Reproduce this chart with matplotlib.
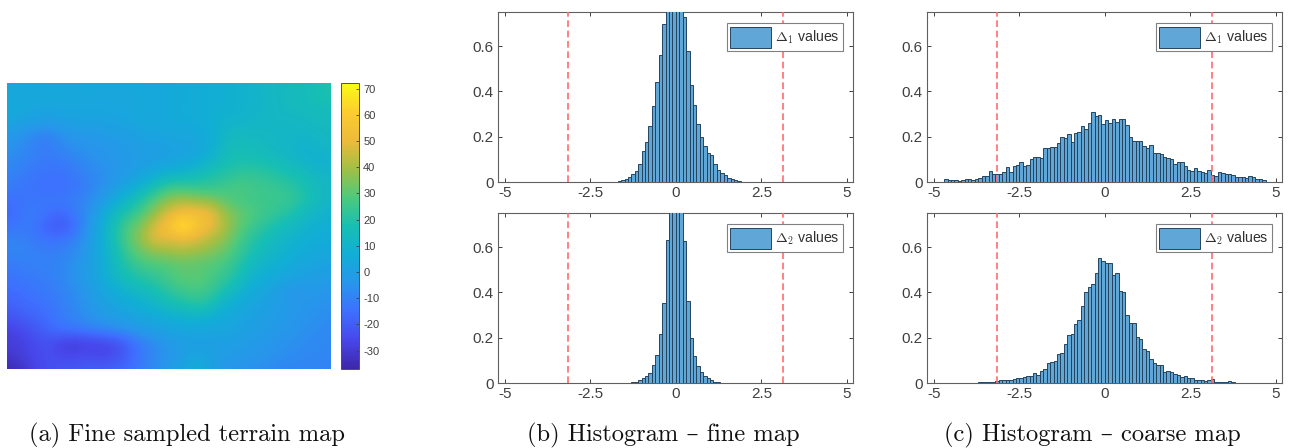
import numpy as np
import matplotlib
matplotlib.use("Agg")
import matplotlib.pyplot as plt
from matplotlib.colors import LinearSegmentedColormap

plt.rcParams['font.family'] = ['Liberation Sans', 'DejaVu Sans']
plt.rcParams['mathtext.fontset'] = 'cm'
plt.rcParams['axes.unicode_minus'] = False

W, H = 1290, 448

# terrain heights, top row first
terrain = [
    [3, 3, 3, 4, 4, 4, 4, 4, 4, 4, 4, 5, 5, 6, 6, 7, 8, 9, 10, 12, 13, 14, 15, 17, 19],
    [4, 4, 4, 4, 4, 4, 3, 3, 3, 3, 4, 4, 5, 5, 6, 7, 8, 9, 10, 11, 13, 14, 15, 17, 19],
    [5, 5, 3, 2, 3, 3, 3, 3, 3, 3, 4, 4, 5, 6, 6, 7, 8, 9, 10, 11, 13, 14, 14, 15, 15],
    [3, 1, 0, -1, 0, 1, 1, 1, 2, 3, 4, 4, 5, 5, 6, 7, 10, 10, 11, 12, 12, 12, 13, 14, 14],
    [-2, -5, -8, -11, -6, -3, -3, -2, -1, -1, 2, 2, 3, 3, 4, 6, 11, 14, 13, 13, 12, 12, 11, 12, 14],
    [-5, -7, -10, -12, -9, -6, -5, -4, -3, -2, 0, 0, 1, 1, 2, 6, 13, 16, 15, 14, 12, 11, 9, 10, 12],
    [-7, -9, -11, -12, -12, -10, -7, -5, -3, -2, -1, 0, 1, 3, 5, 11, 15, 18, 18, 17, 15, 13, 10, 8, 10],
    [-9, -11, -13, -14, -14, -12, -9, -7, -4, -2, 2, 6, 10, 11, 14, 18, 20, 22, 23, 22, 20, 17, 16, 12, 11],
    [-11, -13, -14, -15, -15, -14, -10, -6, -2, 4, 10, 18, 24, 25, 23, 23, 25, 28, 27, 25, 24, 22, 18, 14, 12],
    [-15, -14, -13, -13, -12, -11, -8, -3, 6, 13, 20, 30, 37, 40, 38, 36, 31, 27, 26, 25, 25, 24, 20, 14, 12],
    [-17, -14, -11, -14, -17, -12, -6, 3, 14, 20, 28, 38, 48, 53, 54, 52, 40, 33, 29, 26, 23, 20, 14, 11, 9],
    [-15, -12, -13, -19, -22, -16, -5, 6, 18, 28, 36, 48, 56, 72, 58, 52, 42, 33, 26, 22, 17, 14, 10, 8, 7],
    [-9, -10, -12, -14, -14, -10, -3, 7, 18, 30, 38, 50, 48, 50, 48, 42, 38, 29, 22, 17, 13, 10, 8, 6, 6],
    [-9, -9, -10, -11, -10, -8, -2, 6, 15, 26, 33, 36, 38, 40, 38, 36, 32, 26, 19, 14, 11, 8, 6, 4, 4],
    [-12, -11, -10, -10, -9, -5, -1, 6, 14, 21, 26, 28, 29, 31, 30, 29, 27, 22, 14, 10, 8, 5, 3, 2, 1],
    [-14, -13, -12, -11, -9, -5, -1, 5, 12, 17, 20, 23, 27, 30, 31, 28, 24, 18, 10, 7, 4, 2, 0, -1, -1],
    [-16, -15, -13, -12, -10, -7, -3, 2, 6, 11, 14, 17, 22, 25, 27, 25, 18, 12, 6, 3, 0, -5, -3, -3, -4],
    [-18, -17, -15, -14, -11, -8, -4, 0, 3, 5, 8, 12, 16, 18, 21, 19, 10, 6, 3, 1, -1, -2, -4, -5, -6],
    [-23, -20, -18, -15, -12, -9, -6, -3, -1, 1, 3, 5, 7, 9, 10, 8, 5, 3, 1, 0, -2, -3, -5, -6, -7],
    [-28, -26, -22, -18, -14, -13, -11, -9, -7, -5, -2, 0, 2, 3, 3, 3, 3, 2, 0, -1, -3, -4, -6, -7, -8],
    [-29, -28, -25, -23, -28, -30, -28, -27, -25, -18, -11, -7, -3, -1, 0, 0, 0, -1, -2, -3, -5, -6, -7, -8, -8],
    [-31, -29, -26, -24, -25, -26, -24, -26, -24, -19, -12, -8, -4, -1, 3, 1, -2, -2, -3, -4, -6, -7, -8, -8, -9],
    [-36, -33, -27, -24, -22, -21, -20, -20, -18, -15, -11, -7, -2, 2, 8, 2, -3, -5, -6, -7, -8, -9, -9, -9, -10],
]
cbar_ticks = [-30, -20, -10, 0, 10, 20, 30, 40, 50, 60, 70]
cbar_labels = ['-30', '-20', '-10', '0', '10', '20', '30', '40', '50', '60', '70']

bin_edges = [round(-4.7 + 0.1 * k, 1) for k in range(95)]

fine_d1 = [
    .0005, .0005, .0005, .0005, .0005, .0005, .0005, .0005, .0005, .0005,
    .0005, .0005, .0005, .0005, .0005, .0005, .0005, .0005, .0005, .0005,
    .0005, .0005, .0005, .0005, .0005, .001, .001, .001, .002, .002,
    .005, .008, .012, .02, .035, .05, .08, .135, .178, .245,
    .335, .44, .56, .695, .8, .85, .87, .87, .8, .73,
    .58, .43, .34, .255, .2, .16, .13, .12, .08, .055,
    .04, .03, .018, .012, .007, .003, .002, .001, .001, .001,
    .0005, .0005, .0005, .0005, .0005, .0005, .0005, .0005, .0005, .0005,
    .0005, .0005, .0005, .0005, .0005, .0005, .0005, .0005, .0005, .0005,
    .0005, .0005, .0005, .0005,
]
fine_d2 = [
    .0005, .0005, .0005, .0005, .0005, .0005, .0005, .0005, .0005, .0005,
    .0005, .0005, .0005, .0005, .0005, .0005, .0005, .0005, .0005, .0005,
    .0005, .0005, .0005, .0005, .0005, .0005, .0005, .0005, .0005, .0005,
    .0005, .0005, .0005, .002, .004, .006, .012, .02, .03, .045,
    .078, .125, .215, .355, .63, 1.0, 1.2, 1.2, .95, .625,
    .36, .2, .12, .075, .05, .03, .022, .012, .006, .004,
    .002, .001, .001, .0005, .0005, .0005, .0005, .0005, .0005, .0005,
    .0005, .0005, .0005, .0005, .0005, .0005, .0005, .0005, .0005, .0005,
    .0005, .0005, .0005, .0005, .0005, .0005, .0005, .0005, .0005, .0005,
    .0005, .0005, .0005, .0005,
]
coarse_d1 = [
    .012, .008, .01, .011, .003, .01, .015, .012, .01, .015,
    .017, .025, .026, .047, .037, .036, .036, .042, .065, .045,
    .072, .075, .09, .072, .075, .1, .112, .112, .108, .152,
    .15, .156, .153, .17, .2, .195, .21, .175, .215, .22,
    .245, .235, .26, .31, .29, .295, .255, .275, .26, .28,
    .265, .28, .278, .25, .2, .18, .183, .183, .16, .15,
    .165, .13, .128, .125, .11, .105, .1, .08, .09, .09,
    .07, .055, .05, .06, .05, .045, .04, .052, .03, .028,
    .042, .04, .035, .035, .03, .02, .022, .02, .018, .025,
    .022, .012, .012, .008,
]
coarse_d2 = [
    .0005, .0005, .0005, .001, .001, .001, .001, .002, .002, .002,
    .003, .004, .004, .005, .006, .007, .013, .013, .013, .014,
    .018, .02, .022, .026, .03, .032, .042, .035, .055, .06,
    .088, .093, .095, .128, .133, .17, .21, .215, .26, .28,
    .34, .4, .425, .435, .485, .55, .54, .53, .53, .475,
    .485, .405, .4, .3, .265, .265, .205, .195, .15, .14,
    .105, .09, .08, .08, .05, .055, .05, .04, .035, .025,
    .03, .02, .022, .015, .014, .012, .01, .012, .016, .005,
    .005, .004, .003, .008, .003, .002, .001, .001, .001, .001,
    .0005, .0005, .0005, .0005,
]

x_ticks = [-5, -2.5, 0, 2.5, 5]
x_labels = ['-5', '-2.5', '0', '2.5', '5']
y_ticks = [0, 0.2, 0.4, 0.6]
y_labels = ['0', '0.2', '0.4', '0.6']
limit_lines = [-3.14, 3.14]

captions = ['(a) Fine sampled terrain map', '(b) Histogram – fine map', '(c) Histogram – coarse map']
caption_x = [187, 663, 1092]

parula = LinearSegmentedColormap.from_list('parula', [
    (0.00, (.2422, .1504, .6603)),
    (0.10, (.2803, .2782, .9221)),
    (0.20, (.2440, .4358, .9988)),
    (0.30, (.1540, .5902, .9218)),
    (0.40, (.0700, .6800, .8400)),
    (0.50, (.0900, .7500, .7000)),
    (0.60, (.3000, .7900, .4900)),
    (0.70, (.6300, .7500, .2700)),
    (0.80, (.9300, .7300, .2300)),
    (0.90, (.9900, .8000, .1900)),
    (1.00, (.9769, .9839, .0805)),
])


def axes_px(left, top, right, bottom):
    return fig.add_axes([left / W, 1 - bottom / H, (right - left) / W, (bottom - top) / H])


def histogram(left, top, values, name):
    ax = axes_px(left, top, left + 355, top + 170)
    ax.bar(bin_edges[:-1], values, width=0.1, align='edge', color='#60a7d8',
           edgecolor='#24445f', linewidth=0.7, label=name, zorder=3)
    for x in limit_lines:
        ax.axvline(x, color='#ff6b70', linestyle='--', linewidth=1.2, dashes=(4, 2.2), zorder=4)
    ax.set_xlim(-5.2, 5.18)
    ax.set_ylim(0, 0.75)
    ax.set_xticks(x_ticks)
    ax.set_xticklabels(x_labels)
    ax.set_yticks(y_ticks)
    ax.set_yticklabels(y_labels)
    ax.tick_params(direction='in', length=3, width=0.7, top=True, right=True,
                   color='#404040', labelcolor='#404040', labelsize=11, pad=3)
    for s in ax.spines.values():
        s.set_color('#606060')
        s.set_linewidth(0.8)
    leg = ax.legend(loc='upper right', bbox_to_anchor=(0.972, 0.935), fontsize=10.2,
                    fancybox=False, framealpha=1, edgecolor='#808080', borderpad=0.25,
                    handlelength=2.85, handleheight=1.9, handletextpad=0.3, borderaxespad=0)
    leg.set_zorder(5)
    leg.get_frame().set_linewidth(0.8)
    for t in leg.get_texts():
        t.set_color('#303030')
    return ax


fig = plt.figure(figsize=(W / 100, H / 100), dpi=100)

ax_map = axes_px(7.3, 83.3, 330.7, 369)
im = ax_map.imshow(terrain, cmap=parula, vmin=-37, vmax=72, aspect='auto',
                   interpolation='bicubic', extent=[-0.5, 24.5, 22.5, -0.5])
ax_map.set_xlim(0, 24)
ax_map.set_ylim(22, 0)
ax_map.axis('off')

cax = axes_px(341, 83.3, 359, 369)
cb = fig.colorbar(im, cax=cax)
cb.set_ticks(cbar_ticks)
cb.set_ticklabels(cbar_labels)
cax.tick_params(direction='in', length=2, width=0.6, color='#404040',
                labelcolor='#404040', labelsize=8, pad=3)
cb.outline.set_edgecolor('#505050')
cb.outline.set_linewidth(0.7)

histogram(498, 12, fine_d1, r'$\Delta_1$ values')
histogram(498, 213, fine_d2, r'$\Delta_2$ values')
histogram(927, 12, coarse_d1, r'$\Delta_1$ values')
histogram(927, 213, coarse_d2, r'$\Delta_2$ values')

for x, text in zip(caption_x, captions):
    fig.text(x / W, 1 - 435.5 / H, text, ha='center', va='center', fontsize=17.6,
             family=['cmr10', 'DejaVu Serif'], color='#111111')

fig.savefig('out.png', dpi=100)
